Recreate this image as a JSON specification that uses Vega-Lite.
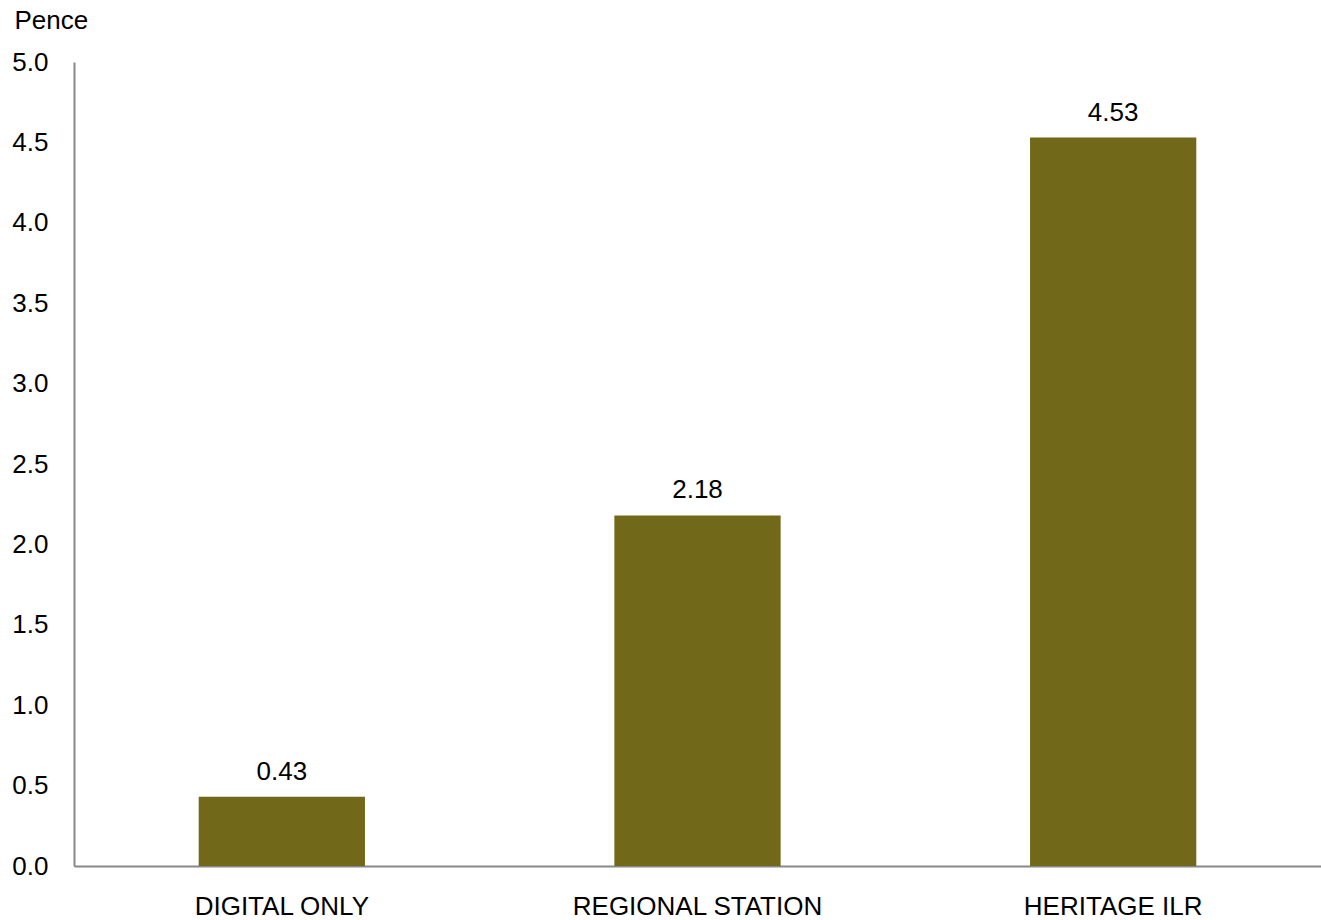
{
  "$schema": "https://vega.github.io/schema/vega-lite/v6.json",
  "width": 1247,
  "height": 804,
  "autosize": "none",
  "padding": {"left": 74, "top": 62, "right": 0, "bottom": 54},
  "background": "white",
  "config": {
    "view": {"stroke": null},
    "font": "Liberation Sans",
    "axis": {"labelFont": "Liberation Sans", "titleFont": "Liberation Sans", "labelColor": "#000000", "titleColor": "#000000"}
  },
  "data": {
    "values": [
      {"type": "DIGITAL ONLY", "pence": 0.43},
      {"type": "REGIONAL STATION", "pence": 2.18},
      {"type": "HERITAGE ILR", "pence": 4.53}
    ]
  },
  "encoding": {
    "x": {
      "field": "type",
      "type": "nominal",
      "sort": null,
      "scale": {"paddingInner": 0.6, "paddingOuter": 0.3},
      "axis": {
        "title": null,
        "labelAngle": 0,
        "labelFontSize": 26,
        "labelPadding": 27,
        "labelLimit": 0,
        "ticks": false,
        "grid": false,
        "domainColor": "#888888",
        "domainWidth": 2
      }
    },
    "y": {
      "field": "pence",
      "type": "quantitative",
      "scale": {"domain": [0, 5], "nice": false},
      "axis": {
        "values": [0, 0.5, 1, 1.5, 2, 2.5, 3, 3.5, 4, 4.5, 5],
        "format": ".1f",
        "title": "Pence",
        "titleAngle": 0,
        "titleAlign": "left",
        "titleBaseline": "middle",
        "titleX": -60,
        "titleY": -42,
        "titleFontSize": 26,
        "titleFontWeight": "normal",
        "labelFontSize": 26,
        "labelPadding": 26,
        "ticks": false,
        "grid": false,
        "domainColor": "#888888",
        "domainWidth": 2
      }
    }
  },
  "layer": [
    {"mark": {"type": "bar", "color": "#716819"}},
    {
      "mark": {"type": "text", "baseline": "alphabetic", "dy": -17, "fontSize": 26, "color": "#000000"},
      "encoding": {"text": {"field": "pence", "type": "quantitative", "format": ".2f"}}
    }
  ]
}
